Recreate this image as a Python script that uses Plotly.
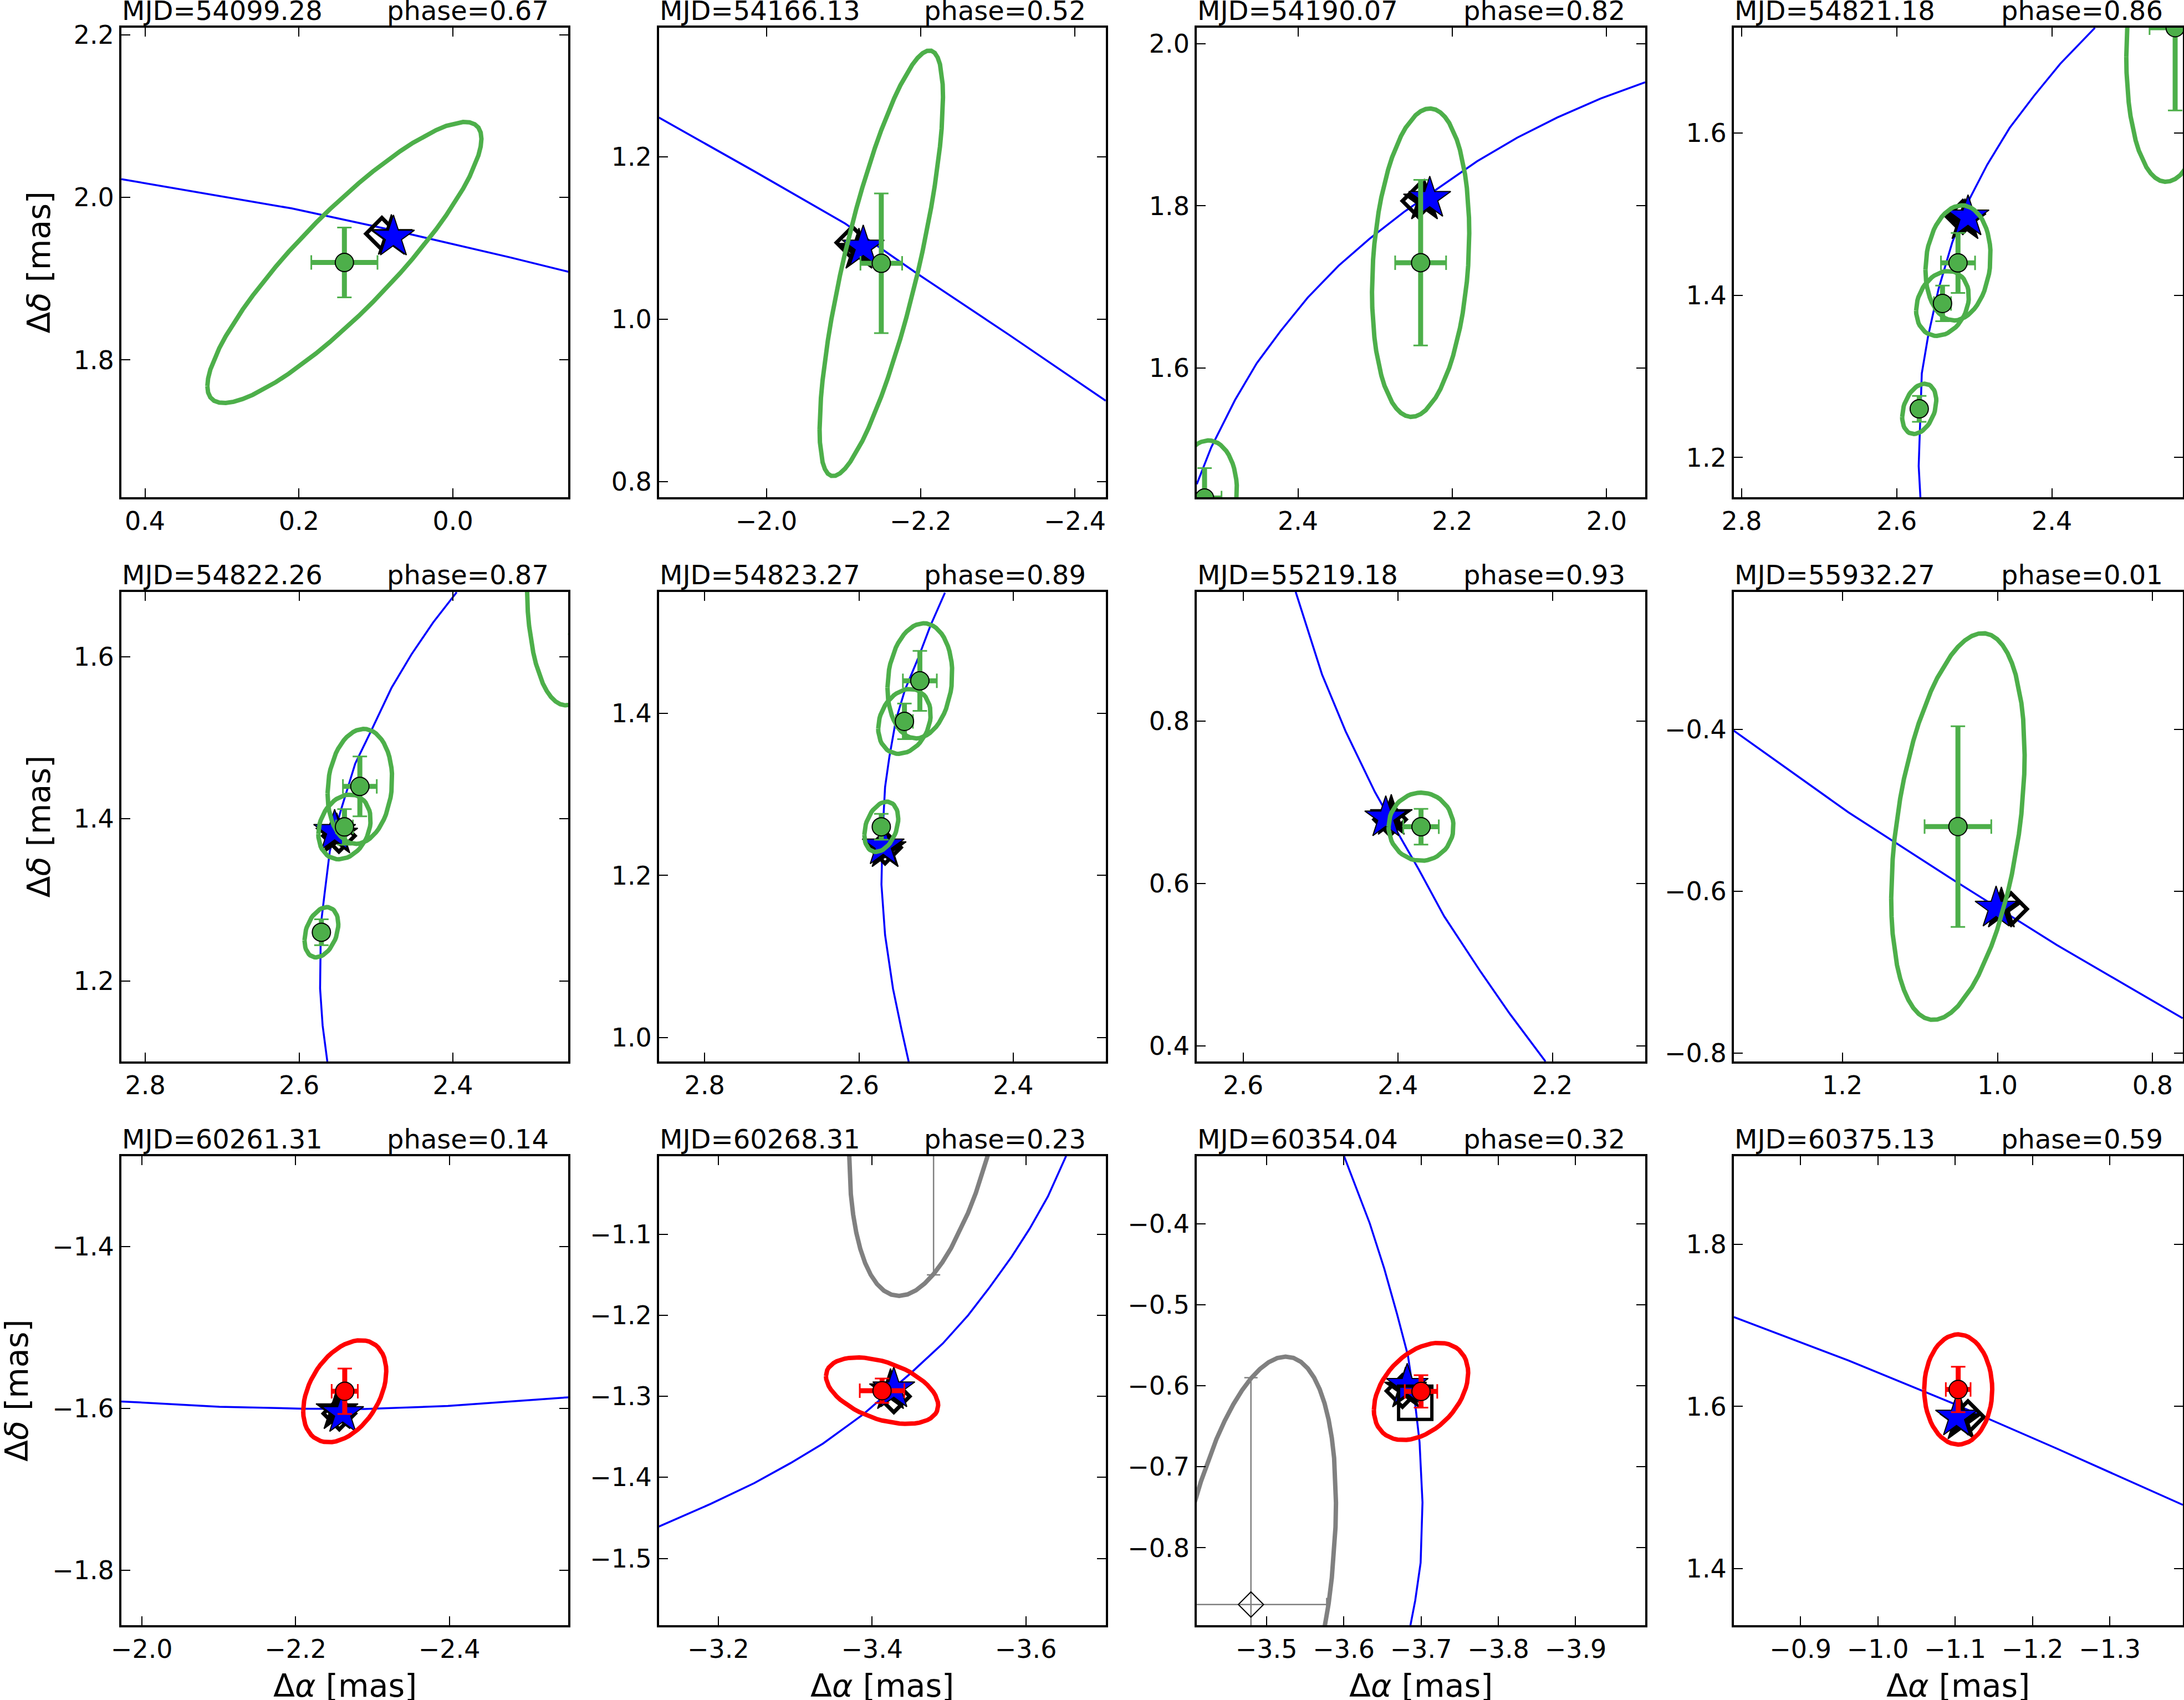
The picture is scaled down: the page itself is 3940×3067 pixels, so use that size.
import numpy as np
import plotly.graph_objects as go

# ---------------- data ----------------
mjd_labels = ["54099.28", "54166.13", "54190.07", "54821.18", "54822.26", "54823.27",
              "55219.18", "55932.27", "60261.31", "60268.31", "60354.04", "60375.13"]
phase_labels = ["0.67", "0.52", "0.82", "0.86", "0.87", "0.89",
                "0.93", "0.01", "0.14", "0.23", "0.32", "0.59"]

# older astrometry (green)
green_ra = [0.141, -2.149, 2.241, 2.521, 2.541, 2.571, 2.370, 1.051]
green_dec = [1.920, 1.069, 1.730, 1.440, 1.390, 1.260, 0.670, -0.520]
green_era = [0.043, 0.027, 0.033, 0.022, 0.011, 0.006, 0.023, 0.043]
green_edec = [0.043, 0.086, 0.102, 0.037, 0.022, 0.016, 0.022, 0.124]
green_sx = [0.178, 0.080, 0.063, 0.042, 0.034, 0.022, 0.042, 0.086]
green_sy = [0.173, 0.262, 0.190, 0.071, 0.040, 0.031, 0.042, 0.239]
green_rho = [-0.88, -0.78, -0.19, -0.12, -0.22, -0.32, 0.0, -0.37]

# new astrometry (red)
red_ra = [-2.264, -3.413, -3.700, -1.104]
red_dec = [-1.579, -1.293, -0.607, 1.621]
red_era = [0.017, 0.029, 0.021, 0.016]
red_edec = [0.028, 0.015, 0.020, 0.028]
red_sx = [0.054, 0.073, 0.061, 0.044]
red_sy = [0.063, 0.041, 0.060, 0.068]
red_rho = [-0.39, 0.44, -0.38, 0.0]

# rejected point (gray)
gray_ra = [-3.480]
gray_dec = [-0.870]
gray_era = [0.098]
gray_edec = [0.280]
gray_sx = [0.110]
gray_sy = [0.306]
gray_rho = [-0.41]

# model positions at each epoch
star_ra = [0.0773, -2.1256, 2.2292, 2.5081, 2.5538, 2.5685, 2.4156, 1.0018, -2.2613, -3.4283, -3.6821, -1.1018]
star_dec = [1.9513, 1.0890, 1.8093, 1.4967, 1.3845, 1.2365, 0.6810, -0.6208, -1.6065, -1.2907, -0.5995, 1.5870]
bstar_ra = [0.0800, -2.1200, 2.2360, 2.5120, 2.5510, 2.5660, 2.4085, 0.9950, -2.2540, -3.4240, -3.6800, -1.1076]
bstar_dec = [1.9520, 1.0850, 1.8060, 1.4920, 1.3800, 1.2330, 0.6827, -0.6220, -1.6030, -1.2930, -0.6040, 1.5823]
diam_ra = [0.0923, -2.1115, 2.2440, 2.5148, 2.5482, 2.5661, 2.4100, 0.9825, -2.2570, -3.4283, -3.6760, -1.1166]
diam_dec = [1.9554, 1.0944, 1.8060, 1.4967, 1.3790, 1.2344, 0.6790, -0.6220, -1.6065, -1.3000, -0.6065, 1.5870]
square_ra = [-3.6925]
square_dec = [-0.621]
square_panel = [11]

# orbit track read in each panel
orbit_ra = [
    [0.4306, 0.2092, 0.0678, -0.0735, -0.1498],
    [-1.8607, -1.9845, -2.1021, -2.1962, -2.3139, -2.4400],
    [2.5311, 2.5123, 2.4816, 2.4533, 2.4226, 2.3873, 2.3472, 2.3071, 2.2623, 2.2151, 2.1679, 2.1160, 2.0642, 2.0075, 1.9500],
    [2.5695, 2.5717, 2.5677, 2.5596, 2.5462, 2.5283, 2.5058, 2.4834, 2.4543, 2.4229, 2.3892, 2.3444],
    [2.5633, 2.5694, 2.5727, 2.5717, 2.5670, 2.5600, 2.5458, 2.5270, 2.5058, 2.4799, 2.4539, 2.4257, 2.3951],
    [2.5355, 2.5449, 2.5558, 2.5661, 2.5708, 2.5694, 2.5661, 2.5605, 2.5520, 2.5402, 2.5238, 2.5073, 2.4885],
    [2.5321, 2.5217, 2.4981, 2.4675, 2.4297, 2.3967, 2.3731, 2.3401, 2.2929, 2.2552, 2.2090],
    [1.3400, 1.1922, 1.0578, 0.9234, 0.7613],
    [-1.9736, -2.1009, -2.2094, -2.2896, -2.3981, -2.5547],
    [-3.1226, -3.1901, -3.2467, -3.2939, -3.3363, -3.3882, -3.4495, -3.4920, -3.5250, -3.5533, -3.5816, -3.6052, -3.6288, -3.6524],
    [-3.6006, -3.6336, -3.6524, -3.6689, -3.6830, -3.6925, -3.6981, -3.7019, -3.6995, -3.6925, -3.6863],
    [-0.8139, -0.9619, -1.0964, -1.2309, -1.3946],
]
orbit_dec = [
    [2.0226, 1.9865, 1.9575, 1.9264, 1.9086],
    [1.2484, 1.1822, 1.1180, 1.0559, 0.9814, 0.8998],
    [1.4570, 1.5026, 1.5606, 1.6062, 1.6456, 1.6870, 1.7264, 1.7596, 1.7927, 1.8238, 1.8549, 1.8839, 1.9088, 1.9324, 1.9523],
    [1.1510, 1.1896, 1.3037, 1.3494, 1.4075, 1.4656, 1.5195, 1.5610, 1.6066, 1.6461, 1.6855, 1.7299],
    [1.1005, 1.1449, 1.1905, 1.2692, 1.3065, 1.3604, 1.4102, 1.4682, 1.5096, 1.5615, 1.6029, 1.6423, 1.6796],
    [0.9704, 1.0106, 1.0603, 1.1266, 1.1888, 1.2510, 1.3090, 1.3463, 1.3919, 1.4292, 1.4665, 1.5080, 1.5486],
    [0.9596, 0.9285, 0.8580, 0.7876, 0.7130, 0.6570, 0.6176, 0.5596, 0.4912, 0.4394, 0.3805],
    [-0.4015, -0.5024, -0.5855, -0.6665, -0.7570],
    [-1.5916, -1.5981, -1.6005, -1.6009, -1.5972, -1.5865],
    [-1.4607, -1.4327, -1.4071, -1.3824, -1.3582, -1.3224, -1.2721, -1.2348, -1.1999, -1.1650, -1.1277, -1.0928, -1.0532, -1.0034],
    [-0.3169, -0.3993, -0.4552, -0.5111, -0.5623, -0.6228, -0.6694, -0.7439, -0.8184, -0.8650, -0.8957],
    [1.7104, 1.6568, 1.6042, 1.5483, 1.4785],
]

# ---------------- layout geometry ----------------
x_ranges = [[0.4306, -0.1498], [-1.861, -2.44], [2.531, 1.95], [2.810, 2.231],
            [2.831, 2.250], [2.859, 2.28], [2.660, 2.080], [1.3398, 0.761],
            [-1.9736, -2.5547], [-3.123, -3.704], [-3.41, -3.99], [-0.8139, -1.3946]]
y_ranges = [[1.631, 2.209], [0.781, 1.359], [1.441, 2.0195], [1.151, 1.730],
            [1.1005, 1.680], [0.9706, 1.5496], [0.3805, 0.9596], [-0.8104, -0.230],
            [-1.868, -1.2886], [-1.5824, -1.0036], [-0.8955, -0.3166], [1.330, 1.909]]
x_dticks = [0.2] * 10 + [0.1, 0.1]
y_dticks = [0.2] * 9 + [0.1, 0.1, 0.2]

col_domains = [[0.0556, 0.2602], [0.3018, 0.5063], [0.5480, 0.7533], [0.7939, 0.9995]]
row_domains = [[0.7075, 0.9837], [0.3756, 0.6518], [0.0440, 0.3199]]

GREEN = "#4daf4a"
RED = "#ff0000"
GRAY = "#808080"
BLUE = "#0000ff"


def ellipse_paths(cx, cy, sx, sy, rho, n=61):
    xs, ys = [], []
    t = np.linspace(0, 2 * np.pi, n)
    for a, b, u, v, r in zip(cx, cy, sx, sy, rho):
        xs += list(a + u * np.cos(t)) + [None]
        ys += list(b + v * (r * np.cos(t) + np.sqrt(1 - r * r) * np.sin(t))) + [None]
    return xs, ys


gex, gey = ellipse_paths(green_ra, green_dec, green_sx, green_sy, green_rho)
rex, rey = ellipse_paths(red_ra, red_dec, red_sx, red_sy, red_rho)
kex, key = ellipse_paths(gray_ra, gray_dec, gray_sx, gray_sy, gray_rho)

fig = go.Figure()
fig.update_layout(template="none")
annotations = []
FONT = "DejaVu Sans"


def add_points(ra, dec, era, edec, color, kw):
    # thick bars without caps
    fig.add_trace(go.Scatter(x=ra, y=dec, mode="none",
                             error_x=dict(type="data", array=era, color=color, thickness=9, width=0),
                             error_y=dict(type="data", array=edec, color=color, thickness=9, width=0),
                             **kw))
    # thin caps + markers
    fig.add_trace(go.Scatter(x=ra, y=dec, mode="markers",
                             error_x=dict(type="data", array=era, color=color, thickness=3, width=13),
                             error_y=dict(type="data", array=edec, color=color, thickness=3, width=13),
                             marker=dict(symbol="circle", size=33, color=color,
                                         line=dict(width=2, color="black")), **kw))


for i in range(12):
    n = i + 1
    xa = "x" if n == 1 else f"x{n}"
    ya = "y" if n == 1 else f"y{n}"
    kw = dict(xaxis=xa, yaxis=ya, showlegend=False, hoverinfo="skip")

    fig.add_trace(go.Scatter(x=orbit_ra[i], y=orbit_dec[i], mode="lines",
                             line=dict(color=BLUE, width=3.5), **kw))
    fig.add_trace(go.Scatter(x=[diam_ra[i]], y=[diam_dec[i]], mode="markers",
                             marker=dict(symbol="diamond-open", size=44, color="black",
                                         line=dict(width=7, color="black")), **kw))
    fig.add_trace(go.Scatter(x=[bstar_ra[i]], y=[bstar_dec[i]], mode="markers",
                             marker=dict(symbol="star", size=57, color="black",
                                         line=dict(width=2, color="black")), **kw))
    fig.add_trace(go.Scatter(x=[star_ra[i]], y=[star_dec[i]], mode="markers",
                             marker=dict(symbol="star", size=57, color=BLUE,
                                         line=dict(width=2, color="black")), **kw))
    for sra, sdec, sp in zip(square_ra, square_dec, square_panel):
        if sp == n:
            fig.add_trace(go.Scatter(x=[sra], y=[sdec], mode="markers",
                                     marker=dict(symbol="square-open", size=60, color="black",
                                                 line=dict(width=6, color="black")), **kw))
    # ellipses
    fig.add_trace(go.Scatter(x=gex, y=gey, mode="lines", line=dict(color=GREEN, width=8), **kw))
    fig.add_trace(go.Scatter(x=rex, y=rey, mode="lines", line=dict(color=RED, width=8), **kw))
    fig.add_trace(go.Scatter(x=kex, y=key, mode="lines", line=dict(color=GRAY, width=8), **kw))
    # points with error bars
    fig.add_trace(go.Scatter(x=gray_ra, y=gray_dec, mode="markers",
                             error_x=dict(type="data", array=gray_era, color=GRAY, thickness=2.5, width=12),
                             error_y=dict(type="data", array=gray_edec, color=GRAY, thickness=2.5, width=12),
                             marker=dict(symbol="diamond-open", size=35, color="black",
                                         line=dict(width=2, color="black")), **kw))
    add_points(green_ra, green_dec, green_era, green_edec, GREEN, kw)
    add_points(red_ra, red_dec, red_era, red_edec, RED, kw)

    row, col = i // 4, i % 4
    axis_common = dict(showgrid=False, zeroline=False, ticks="inside", ticklen=16, tickwidth=2,
                       tickcolor="black", showline=True, linecolor="black", linewidth=4,
                       mirror="ticks", tick0=0, tickformat=".1f", automargin=False,
                       tickfont=dict(family=FONT, size=46, color="black"))
    fig.layout[("xaxis" if n == 1 else f"xaxis{n}")] = dict(
        domain=col_domains[col], range=x_ranges[i], dtick=x_dticks[i],
        anchor=ya, **axis_common)
    fig.layout[("yaxis" if n == 1 else f"yaxis{n}")] = dict(
        domain=row_domains[row], range=y_ranges[i], dtick=y_dticks[i],
        anchor=xa, **axis_common)

    annotations.append(dict(text="MJD=" + mjd_labels[i], xref=f"{xa} domain", yref=f"{ya} domain",
                            x=0.0, y=1.0, xanchor="left", yanchor="bottom", yshift=2, showarrow=False,
                            borderpad=0, font=dict(family=FONT, size=48, color="black")))
    annotations.append(dict(text="phase=" + phase_labels[i], xref=f"{xa} domain", yref=f"{ya} domain",
                            x=0.957, y=1.0, xanchor="right", yanchor="bottom", yshift=2, showarrow=False,
                            borderpad=0, font=dict(family=FONT, size=48, color="black")))

# axis labels
ylab_x = [70 / 3940, 70 / 3940, 30 / 3940]
for r in range(3):
    annotations.append(dict(text="Δ<i>δ</i> [mas]", xref="paper", yref="paper",
                            x=ylab_x[r], y=sum(row_domains[r]) / 2, textangle=-90,
                            xanchor="center", yanchor="middle", showarrow=False,
                            font=dict(family=FONT, size=57, color="black")))
for c in range(4):
    annotations.append(dict(text="Δ<i>α</i> [mas]", xref="paper", yref="paper",
                            x=sum(col_domains[c]) / 2, y=1 - 3041 / 3067,
                            xanchor="center", yanchor="middle", showarrow=False,
                            font=dict(family=FONT, size=57, color="black")))

fig.update_layout(width=3940, height=3067, margin=dict(l=0, r=0, t=0, b=0, pad=0),
                  autosize=False,
                  plot_bgcolor="white", paper_bgcolor="white", showlegend=False,
                  font=dict(family=FONT, size=46, color="black"),
                  annotations=annotations)
fig.update_xaxes(tickfont=dict(family=FONT, size=46, color="black"), automargin=False)
fig.update_yaxes(tickfont=dict(family=FONT, size=46, color="black"), automargin=False)

fig.write_html("out.html")
